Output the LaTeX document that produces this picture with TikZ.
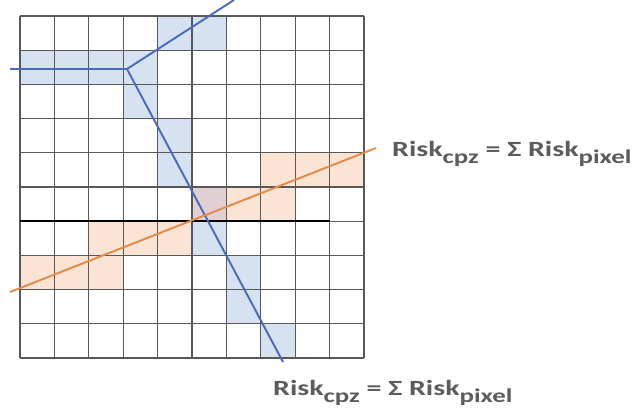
\documentclass[tikz,border=0pt]{standalone}
\usepackage{fontspec}
\setmainfont{Carlito}
\newfontfamily\riskfont[FakeStretch=1.38]{Carlito}
\usepackage{tikz}
\usetikzlibrary{positioning}
\definecolor{cellblue}   {RGB}{214,225,242}
\definecolor{cellorange} {RGB}{251,228,212}
\definecolor{cellmix}    {RGB}{224,208,212}
\definecolor{routeblue}  {RGB}{72,106,184}
\definecolor{routeorange}{RGB}{228,138,72}
\definecolor{gridgray}   {RGB}{88,88,88}
\definecolor{labelgray}  {RGB}{92,92,92}
\newcommand\risksub[1]{\raisebox{-7pt}{\fontsize{19.5}{21}\selectfont #1}}
\tikzset{
  gridline/.style   ={draw=gridgray, line width=1.2pt},
  darkrow/.style    ={draw=black, line width=1.5pt},
  bluecell/.style   ={fill=cellblue},
  orangecell/.style ={fill=cellorange},
  mixcell/.style    ={fill=cellmix},
  blueroute/.style  ={draw=routeblue, line width=1.9pt},
  orangeroute/.style={draw=routeorange, line width=1.9pt},
  risklabel/.style  ={font=\riskfont\fontsize{21.7}{24}\selectfont\bfseries,
                      text=labelgray, inner sep=0pt, anchor=base west},
}

\begin{document}
\begin{tikzpicture}[x=1pt, y=-1pt]
\useasboundingbox (0,0) rectangle (638,416);

%% ─── Pixel grid ─────────────────────────────────────────────────────────────
\begin{scope}[shift={(20,16)}, x=34.4pt, y=-34.2pt]
\foreach \c/\r in {4/0,5/0,0/1,1/1,2/1,3/1,3/2,4/3,4/4,5/6,6/7,6/8,7/9}{
  \fill[bluecell] (\c,\r) rectangle ++(1,1);
}
\foreach \c/\r in {7/4,8/4,9/4,6/5,7/5,2/6,3/6,4/6,0/7,1/7,2/7}{
  \fill[orangecell] (\c,\r) rectangle ++(1,1);
}
\fill[mixcell] (5,5) rectangle ++(1,1);

\foreach \i in {0,...,10}{
  \draw[gridline] (\i,0) -- (\i,10);
  \draw[gridline] (0,\i) -- (10,\i);
}
\draw[darkrow] (0,6) -- (9,6);
\end{scope}

%% ─── Routes ─────────────────────────────────────────────────────────────────
\coordinate (bluewest)  at (10,69);
\coordinate (bluejoint) at (127,69);
\coordinate (bluenorth) at (234,0);
\coordinate (bluesouth) at (283,362);
\coordinate (orangewest) at (10,292);
\coordinate (orangeeast) at (376,148);

\draw[blueroute] (bluewest) -- (bluejoint) -- (bluenorth);
\draw[blueroute] (bluejoint) -- (bluesouth);
\draw[orangeroute] (orangewest) -- (orangeeast);

%% ─── Labels ─────────────────────────────────────────────────────────────────
\node[risklabel] (sumorange) at (392,156.5)
  {Risk\risksub{cpz} = Σ Risk\risksub{pixel}};
\node[risklabel] (sumblue) at (273,395)
  {Risk\risksub{cpz} = Σ Risk\risksub{pixel}};

\end{tikzpicture}
\end{document}
